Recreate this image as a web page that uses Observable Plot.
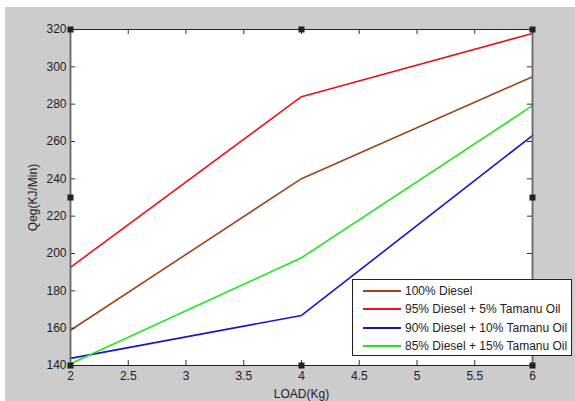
<!DOCTYPE html>
<html><head><meta charset="utf-8">
<script src="https://cdn.jsdelivr.net/npm/d3@7"></script>
<script src="https://cdn.jsdelivr.net/npm/@observablehq/plot@0.6"></script>
<style>
body{margin:0;background:#fff;}
#wrap{position:relative;width:575px;height:401px;overflow:hidden;font-family:Arial,"Liberation Sans",sans-serif;}
#bg{position:absolute;left:5px;top:7px;right:0;bottom:0;background:#cccccc;}
#chart{position:absolute;left:0;top:0;}
#legend{position:absolute;left:352px;top:279px;width:220px;height:77px;background:#fff;border:1px solid #222;box-sizing:border-box;}
.row{position:absolute;left:10px;height:18px;display:flex;align-items:center;font-size:12px;color:#222;white-space:nowrap;}
.sw{display:inline-block;width:38px;height:2px;margin-right:4px;}
</style></head><body>
<div id="wrap"><div id="bg"></div><div id="chart"></div><div id="legend"></div></div>
<script>
const loads = [2, 4, 6];
const seriesNames = ["100% Diesel", "95% Diesel + 5% Tamanu Oil", "90% Diesel + 10% Tamanu Oil", "85% Diesel + 15% Tamanu Oil"];
const diesel100 = [158.9, 240.1, 294.7];
const tamanu5 = [192.6, 284.0, 317.9];
const tamanu10 = [143.8, 166.8, 263.2];
const tamanu15 = [140.9, 197.7, 279.2];
const seriesColors = ["#9c4618", "#e8141c", "#1616cc", "#22e622"];
const xTicks = [2, 2.5, 3, 3.5, 4, 4.5, 5, 5.5, 6];
const yTicks = [140, 160, 180, 200, 220, 240, 260, 280, 300, 320];
const xLabel = "LOAD(Kg)";
const yLabel = "Qeg(KJ/Min)";

const allValues = [diesel100, tamanu5, tamanu10, tamanu15];
const rows = [];
allValues.forEach((vals, i) => loads.forEach((x, j) => rows.push({series: seriesNames[i], load: x, q: vals[j]})));

const xMin = xTicks[0], xMax = xTicks[xTicks.length - 1];
const yMin = yTicks[0], yMax = yTicks[yTicks.length - 1];
const xMid = (xMin + xMax) / 2, yMid = (yMin + yMax) / 2;
const handles = [
  {x: xMin, y: yMax}, {x: xMid, y: yMax}, {x: xMax, y: yMax},
  {x: xMin, y: yMid}, {x: xMax, y: yMid},
  {x: xMin, y: yMin}, {x: xMid, y: yMin}, {x: xMax, y: yMin}
];

const W = 575, H = 401, mL = 70, mR = 43, mT = 29, mB = 36;
const innerW = W - mL - mR, innerH = H - mT - mB;
const tk = 5;

const chart = Plot.plot({
  width: W, height: H,
  marginLeft: mL, marginRight: mR, marginTop: mT, marginBottom: mB,
  style: {background: "transparent", fontFamily: "Arial, 'Liberation Sans', sans-serif", fontSize: "12px", color: "#222"},
  x: {domain: [xMin, xMax]},
  y: {domain: [yMin, yMax]},
  color: {domain: seriesNames, range: seriesColors},
  marks: [
    Plot.frame({fill: "white", stroke: "none"}),
    Plot.line(rows, {x: "load", y: "q", z: "series", stroke: "series", strokeWidth: 1.6}),
    Plot.ruleX(xTicks, {insetTop: innerH - tk, stroke: "#333"}),
    Plot.ruleX(xTicks, {insetBottom: innerH - tk, stroke: "#333"}),
    Plot.ruleY(yTicks, {insetRight: innerW - tk, stroke: "#333"}),
    Plot.ruleY(yTicks, {insetLeft: innerW - tk, stroke: "#333"}),
    Plot.ruleY([yMin, yMax], {stroke: "#222", strokeWidth: 1.2}),
    Plot.ruleX([xMin, xMax], {stroke: "#666", strokeWidth: 1.8}),
    Plot.axisX({ticks: xTicks, tickSize: 0, tickPadding: 6, tickFormat: d => String(d), label: xLabel, labelAnchor: "center", labelOffset: 32, labelArrow: "none"}),
    Plot.axisY({ticks: yTicks, tickSize: 0, tickPadding: 4, tickFormat: d => String(d), label: yLabel, labelAnchor: "center", labelOffset: 42, labelArrow: "none"}),
    Plot.dot(handles, {x: "x", y: "y", symbol: "square", r: 3.4, fill: "#222", stroke: "none"})
  ]
});
document.getElementById("chart").appendChild(chart);

const legend = document.getElementById("legend");
seriesNames.forEach((name, i) => {
  const r = document.createElement("div");
  r.className = "row";
  r.style.top = (2 + i * 18.3) + "px";
  const sw = document.createElement("span");
  sw.className = "sw";
  sw.style.background = seriesColors[i];
  const t = document.createElement("span");
  t.textContent = name;
  r.appendChild(sw); r.appendChild(t);
  legend.appendChild(r);
});
</script>
</body></html>
